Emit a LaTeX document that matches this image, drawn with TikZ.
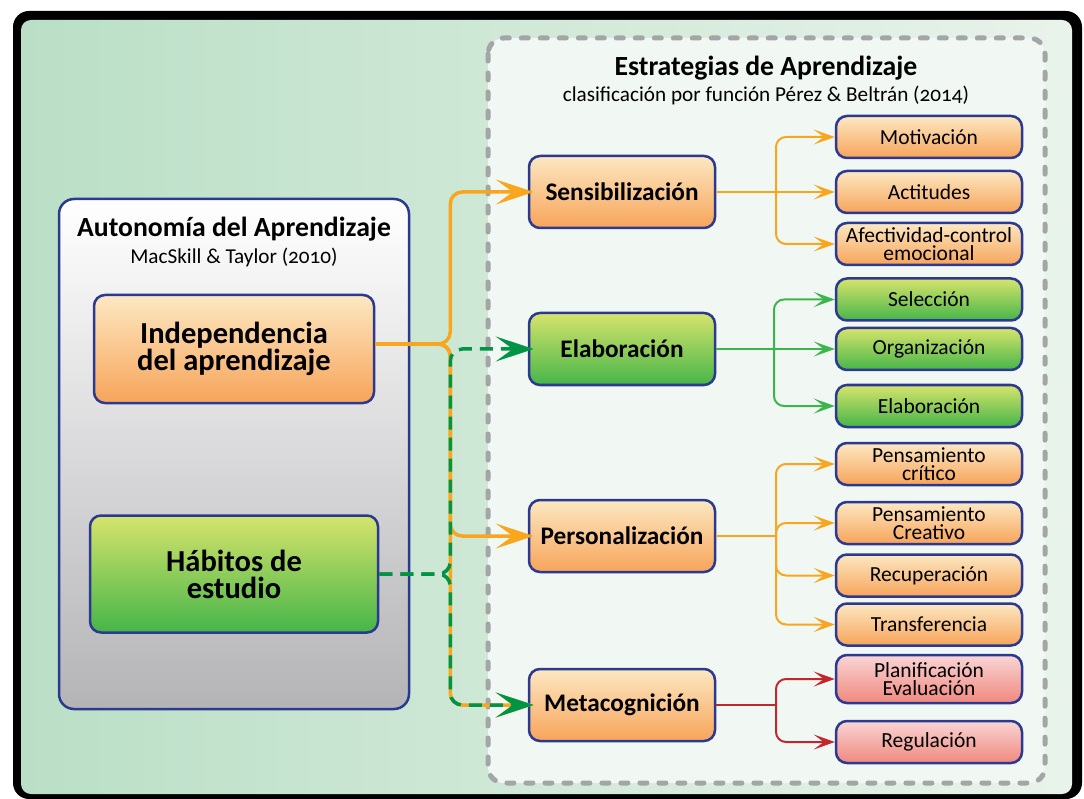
\documentclass[tikz,border=0pt]{standalone}
\usepackage{fontspec}
\setmainfont{Carlito}[Numbers=OldStyle]
\usetikzlibrary{arrows.meta,positioning}

\definecolor{frameblue}{HTML}{2B3990}
\definecolor{orangetop}{HTML}{FCE8C2}
\definecolor{orangebot}{HTML}{F7A45A}
\definecolor{greentop}{HTML}{D6E46C}
\definecolor{greenbot}{HTML}{46B549}
\definecolor{redtop}{HTML}{F9D5D5}
\definecolor{redbot}{HTML}{F0887E}
\definecolor{linkorange}{HTML}{F8A61E}
\definecolor{linkgreen}{HTML}{3CB54A}
\definecolor{dashgreen}{HTML}{009444}
\definecolor{linkred}{HTML}{C1272D}
\definecolor{dashgray}{HTML}{A3A5A6}
\definecolor{bgleft}{HTML}{BADFC6}
\definecolor{bgright}{HTML}{E9F3EB}
\definecolor{areafill}{HTML}{F1F7F2}
\definecolor{panelgray}{HTML}{B4B4B7}

\tikzset{
  box/.style={draw=frameblue, line width=2.5pt, rounded corners=11pt, align=center, inner sep=0pt},
  orangebox/.style={box, top color=orangetop, bottom color=orangebot},
  greenbox/.style={box, top color=greentop, bottom color=greenbot},
  redbox/.style={box, top color=redtop, bottom color=redbot},
  bigbox/.style={font=\fontsize{30.5}{27}\selectfont\bfseries},
  midbox/.style={minimum width=186pt, minimum height=72pt, font=\fontsize{25.3}{26}\selectfont\bfseries},
  leafbox/.style={minimum width=186pt, minimum height=42pt, font=\fontsize{21.5}{18}\selectfont},
  panel/.style={draw=frameblue, line width=2.5pt, rounded corners=15pt, minimum width=350pt, minimum height=510pt, top color=white, bottom color=panelgray},
  headline/.style={font=\fontsize{27.7}{28}\selectfont\bfseries},
  subline/.style={font=\fontsize{21.2}{22}\selectfont},
  biglink/.style={line width=3.5pt, rounded corners=12pt},
  bigtip/.style={-{Stealth[length=38pt, width=25pt, inset=17pt]}, shorten >=-6pt},
  leaflink/.style={line width=2pt, rounded corners=10pt, -{Stealth[length=21pt, width=15pt, inset=10pt]}}
}

\begin{document}
\begin{tikzpicture}[x=1pt, y=-1pt]
    \useasboundingbox (0,0) rectangle (1084,799);
    % frame and background
    \fill[black, rounded corners=16pt] (13,11) rectangle (1082,799);
    \fill[left color=bgleft, right color=bgright, rounded corners=10pt] (21,20) rectangle (1072,794);
    \draw[dashgray, fill=areafill, line width=5pt, dash pattern=on 7pt off 12pt, line cap=round, rounded corners=16pt] (488,38) rectangle (1045,783);

    % left panel
    \node[panel] (auto) at (234,454) {};
    \node[headline] (autotitle) at (234,229) {Autonomía del Aprendizaje};
    \node[subline] (autoref) at (234,257) {MacSkill \& Taylor (2010)};
    \node[orangebox, bigbox, minimum width=280pt, minimum height=108pt] (ind) at (234,349) {Independencia\\del aprendizaje};
    \node[greenbox, bigbox, minimum width=288pt, minimum height=117pt] (hab) at (234,574) {Hábitos de\\estudio};

    % strategies
    \node[headline] (esttitle) at (766,68) {Estrategias de Aprendizaje};
    \node[subline] (estref) at (766,95) {clasificación por función Pérez \& Beltrán (2014)};

    \node[orangebox, midbox] (sens) at (622,192) {Sensibilización};
    \node[greenbox, midbox] (elab) at (622,349) {Elaboración};
    \node[orangebox, midbox] (pers) at (622,536) {Personalización};
    \node[orangebox, midbox] (meta) at (622,705) {Metacognición};

    \node[orangebox, leafbox] (mot) at (929,137) {Motivación};
    \node[orangebox, leafbox] (act) at (929,192) {Actitudes};
    \node[orangebox, leafbox] (afe) at (929,244) {Afectividad-control\\emocional};
    \node[greenbox, leafbox] (sel) at (929,299.5) {Selección};
    \node[greenbox, leafbox] (org) at (929,349) {Organización};
    \node[greenbox, leafbox] (ela) at (929,406) {Elaboración};
    \node[orangebox, leafbox] (crit) at (929,464) {Pensamiento\\crítico};
    \node[orangebox, leafbox] (crea) at (929,523) {Pensamiento\\Creativo};
    \node[orangebox, leafbox] (rec) at (929,575.5) {Recuperación};
    \node[orangebox, leafbox] (tra) at (929,624.5) {Transferencia};
    \node[redbox, leafbox, minimum height=48pt] (plan) at (929,679) {Planificación\\Evaluación};
    \node[redbox, leafbox] (reg) at (929,742) {Regulación};

    % left connectors
    \draw[biglink, linkorange, bigtip] ([yshift=5pt]ind.east) -- ++(75,0) |- (sens.west);
    \draw[biglink, linkorange, bigtip] ([yshift=5pt]ind.east) -- ++(75,0) |- (pers.west);
    \draw[biglink, linkorange, bigtip] ([yshift=5pt]ind.east) -- ++(75,0) |- (meta.west);
    \draw[biglink, dashgreen, dash pattern=on 13pt off 8pt, bigtip] (hab.east) -- ++(71,0) |- (elab.west);
    \draw[biglink, dashgreen, dash pattern=on 13pt off 8pt, bigtip] (hab.east) -- ++(71,0) |- (meta.west);

    % right connectors
    \coordinate (sj) at (776,192);
    \draw[leaflink, linkorange] (sens.east) -- (act.west);
    \draw[leaflink, linkorange] (sj) |- (mot.west);
    \draw[leaflink, linkorange] (sj) |- (afe.west);

    \coordinate (ej) at (774,349);
    \draw[leaflink, linkgreen] (elab.east) -- (org.west);
    \draw[leaflink, linkgreen] (ej) |- (sel.west);
    \draw[leaflink, linkgreen] (ej) |- (ela.west);

    \coordinate (pj) at (776,536);
    \draw[linkorange, line width=2pt] (pers.east) -- (pj);
    \foreach \leaf in {crit, crea, rec, tra}
        \draw[leaflink, linkorange] (pj) |- (\leaf.west);

    \coordinate (mj) at (776,705);
    \draw[linkred, line width=1.8pt] (meta.east) -- (mj);
    \draw[leaflink, linkred] (mj) |- (plan.west);
    \draw[leaflink, linkred] (mj) |- (reg.west);
\end{tikzpicture}
\end{document}
